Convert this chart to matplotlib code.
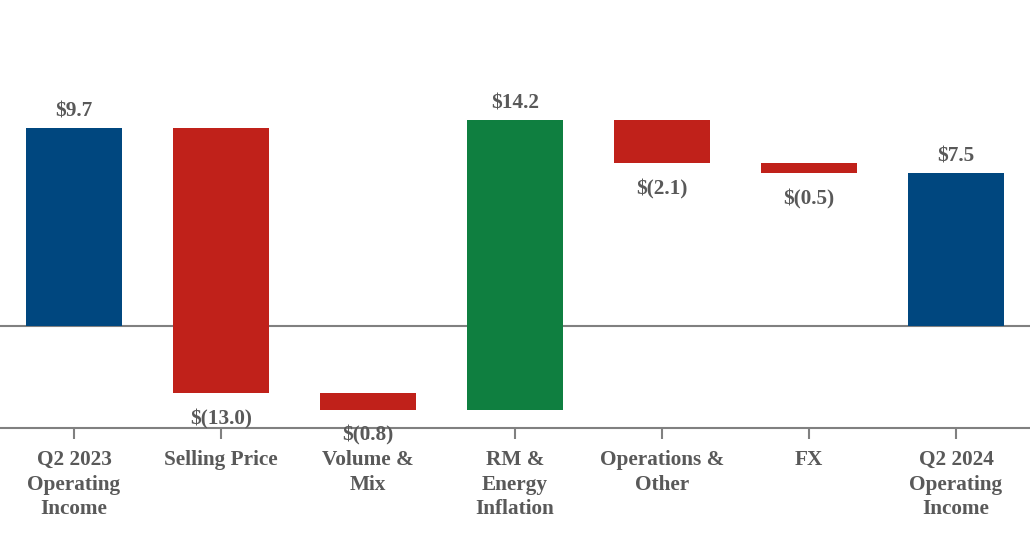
import numpy as np
import matplotlib
matplotlib.use("Agg")
import matplotlib.pyplot as plt

# Datos del puente Q2 2023 -> Q2 2024 (USD millones)
categories = ["Q2 2023\nOperating\nIncome", "Selling Price", "Volume &\nMix",
              "RM &\nEnergy\nInflation", "Operations &\nOther", "FX",
              "Q2 2024\nOperating\nIncome"]
values = [9.7, -13.0, -0.8, 14.2, -2.1, -0.5, 7.5]
kinds = ["total", "delta", "delta", "delta", "delta", "delta", "total"]
labels = ["$9.7", "$(13.0)", "$(0.8)", "$14.2", "$(2.1)", "$(0.5)", "$7.5"]

C_TOTAL = "#00477F"
C_NEG = "#C0211A"
C_POS = "#0F7F40"
C_TEXT = "#595959"
C_LINE = "#808080"
FS = 15.3

plt.rcParams.update({
    "font.family": ["Liberation Serif", "DejaVu Serif"],
    "font.weight": "bold",
})

# bases y alturas de la cascada
bottoms, heights, colors = [], [], []
running = 0.0
for v, k in zip(values, kinds):
    if k == "total":
        bottoms.append(0.0)
        heights.append(v)
        colors.append(C_TOTAL)
        running = v
    else:
        bottoms.append(running)
        heights.append(v)
        colors.append(C_POS if v >= 0 else C_NEG)
        running += v

x = np.arange(len(categories))
fig = plt.figure(figsize=(10.3, 5.4), dpi=100)
ax = fig.add_axes([0, 0.2074, 1, 0.7926])

ax.bar(x, heights, bottom=bottoms, width=0.655, color=colors, zorder=3)
ax.axhline(0, color=C_LINE, linewidth=1.5, zorder=2)

for i, (b, h, lab) in enumerate(zip(bottoms, heights, labels)):
    if h >= 0:
        ax.annotate(lab, (x[i], b + h), xytext=(0, 5), textcoords="offset points",
                    ha="center", va="bottom", fontsize=FS, color=C_TEXT,
                    fontweight="bold", zorder=5)
    else:
        ax.annotate(lab, (x[i], b + h), xytext=(0, -11.5), textcoords="offset points",
                    ha="center", va="top", fontsize=FS, color=C_TEXT,
                    fontweight="bold", zorder=5)

ax.set_xlim(-0.503, 6.503)
ax.set_ylim(-5.0, 16.0)
ax.set_xticks(x)
ax.set_xticklabels(categories, fontsize=FS, color=C_TEXT, fontweight="bold",
                   linespacing=1.3)
ax.tick_params(axis="x", length=8, width=1.5, color=C_LINE, pad=8)
ax.set_yticks([])
for s in ["top", "left", "right"]:
    ax.spines[s].set_visible(False)
ax.spines["bottom"].set_color(C_LINE)
ax.spines["bottom"].set_linewidth(1.5)

fig.savefig("out.png", dpi=100)
